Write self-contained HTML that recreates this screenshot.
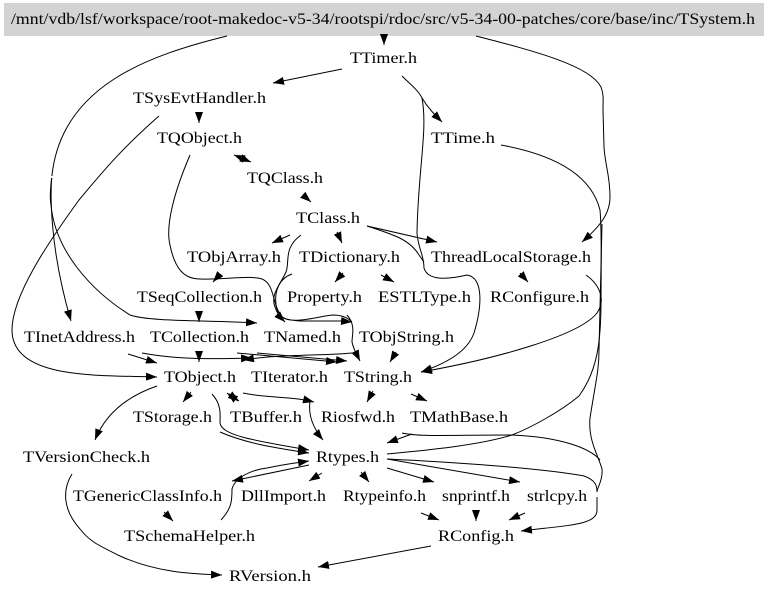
<!DOCTYPE html>
<html><head><meta charset="utf-8"><style>
html,body{margin:0;padding:0;background:#fff}
svg{display:block}
text{font-family:"Liberation Serif",serif;font-size:15.6px;fill:#000}
.e path,.e line{fill:none;stroke:#000;stroke-width:1}
.e .h{marker-end:url(#a)}
</style></head><body>
<svg width="768" height="596" viewBox="0 0 768 596" xmlns="http://www.w3.org/2000/svg">
<defs><marker id="a" markerUnits="userSpaceOnUse" markerWidth="12" markerHeight="9" refX="11" refY="4" orient="auto"><path d="M0,0L11,4L0,8z" fill="#000"/></marker></defs>
<rect width="768" height="596" fill="#fff"/>
<rect x="4" y="3" width="760" height="33" fill="#d3d3d3"/>
<g class="e">
<line class="h" x1="384" y1="34" x2="384" y2="45"/>
<line class="h" x1="342" y1="69" x2="273" y2="83"/>
<path class="h" d="M227,36C150,55 62,85 52,175C50,190 50,200 51,205C55,250 90,290 130,315C150,322 210,320 257,323"/>
<path class="h" d="M52,175C50,195 50,250 71,321"/>
<path class="h" d="M159,116C120,150 100,175 79,200C50,240 12,295 12,330C12,380 100,375 157,377"/>
<line class="h" x1="199" y1="112" x2="199" y2="123"/>
<line class="h" x1="244" y1="159" x2="234" y2="155"/>
<line class="h" x1="241" y1="158" x2="251" y2="162"/>
<line class="h" x1="303" y1="195" x2="311" y2="202"/>
<path d="M190,155C175,190 165,225 170,245C175,270 185,279 200,279C225,280 250,275 262,279C275,284 272,305 282,317C292,325 320,316 333,315C342,315 348,318 352,322"/>
<line class="h" x1="290" y1="235" x2="272" y2="243"/>
<line class="h" x1="337" y1="232" x2="342" y2="243"/>
<line class="h" x1="220" y1="274" x2="213" y2="282"/>
<path class="h" d="M301,235C283,248 290,262 286,272C280,285 270,295 275,307C277,313 279,316 285,322"/>
<path d="M292,274C280,278 274,290 276,305C278,318 285,320 300,321L341,321"/>
<line class="h" x1="341" y1="321" x2="352" y2="322"/>
<path class="h" d="M347,315C356,325 352,335 352,342C353,348 356,353 360,361"/>
<path class="h" d="M402,76C410,84 418,90 422,98C428,108 435,115 442,122"/>
<path class="h" d="M422,98C428,130 418,170 417,233C418,248 424,255 424,268C428,282 450,279 467,275C485,278 481,310 474,333C468,350 450,362 421,372"/>
<line class="h" x1="367" y1="226" x2="437" y2="242"/>
<path d="M367,226C395,235 410,240 419,255L424,262"/>
<path class="h" d="M476,36C530,50 590,65 601,87C604,95 603,100 603,110L604,147C605,165 610,175 610,197C610,215 598,228 582,242"/>
<path d="M501,145C545,153 590,170 600,210C602,230 601,280 601,300C601,340 598,370 579,396C560,412 530,428 512,435C480,445 430,450 387,454"/>
<path d="M602,224L599,350C599,370 596,380 590,418C588,440 598,455 602,469C603,480 597,488 597,492"/>
<path class="h" d="M597,497V510C597,525 570,525 521,531"/>
<path class="h" d="M586,275C600,285 606,300 597,313C580,335 500,358 421,372"/>
<line class="h" x1="412" y1="434" x2="387" y2="443"/>
<path d="M402,433C420,437 450,435 512,435C560,437 590,448 600,460"/>
<line class="h" x1="387" y1="459" x2="520" y2="482"/>
<path d="M387,459C450,462 540,468 584,476C595,480 597,485 597,492"/>
<line class="h" x1="387" y1="468" x2="434" y2="482"/>
<line class="h" x1="421" y1="513" x2="439" y2="520"/>
<line class="h" x1="476" y1="510" x2="476" y2="521"/>
<line class="h" x1="525" y1="513" x2="509" y2="520"/>
<line class="h" x1="431" y1="546" x2="318" y2="567"/>
<line class="h" x1="361" y1="472" x2="369" y2="482"/>
<line class="h" x1="322" y1="473" x2="309" y2="481"/>
<line class="h" x1="309" y1="465" x2="232" y2="481"/>
<path class="h" d="M221,520C232,508 232,500 232,489C235,478 250,470 267,468C285,464 295,463 309,461"/>
<path class="h" d="M157,386C125,397 105,415 95,440"/>
<path class="h" d="M72,474C62,490 63,510 80,529C90,542 100,546 120,556C155,572 190,574 222,575"/>
<line class="h" x1="164" y1="512" x2="173" y2="521"/>
<line class="h" x1="191" y1="392" x2="183" y2="402"/>
<line class="h" x1="238" y1="401" x2="227" y2="393"/>
<line class="h" x1="229" y1="394" x2="239" y2="401"/>
<path class="h" d="M212,394C222,405 220,415 220,423C222,435 250,440 309,450"/>
<path class="h" d="M220,432C245,443 275,448 309,453"/>
<path class="h" d="M243,393C265,398 290,396 314,402"/>
<path class="h" d="M310,401C308,415 313,428 323,440"/>
<line class="h" x1="373" y1="391" x2="367" y2="402"/>
<line class="h" x1="411" y1="394" x2="427" y2="401"/>
<line class="h" x1="396" y1="352" x2="390" y2="362"/>
<line class="h" x1="343" y1="273" x2="335" y2="282"/>
<line class="h" x1="381" y1="275" x2="394" y2="282"/>
<line class="h" x1="520" y1="273" x2="528" y2="282"/>
<line class="h" x1="199" y1="311" x2="199" y2="322"/>
<line class="h" x1="199" y1="351" x2="199" y2="362"/>
<line class="h" x1="128" y1="354" x2="157" y2="363"/>
<path class="h" d="M142,353C180,360 220,359 252,358"/>
<line class="h" x1="237" y1="353" x2="337" y2="362"/>
<line class="h" x1="257" y1="353" x2="347" y2="361"/>
<path class="h" d="M352,353C320,356 280,354 243,360"/>
</g>
<rect x="49" y="176" width="5" height="2" fill="#fff"/>
<rect x="595" y="494" width="5" height="3" fill="#fff"/>
<g>
<text x="11" y="24" textLength="744" lengthAdjust="spacingAndGlyphs">/mnt/vdb/lsf/workspace/root-makedoc-v5-34/rootspi/rdoc/src/v5-34-00-patches/core/base/inc/TSystem.h</text>
<text x="350" y="63" textLength="67" lengthAdjust="spacingAndGlyphs">TTimer.h</text>
<text x="133" y="103" textLength="133" lengthAdjust="spacingAndGlyphs">TSysEvtHandler.h</text>
<text x="157" y="143" textLength="85" lengthAdjust="spacingAndGlyphs">TQObject.h</text>
<text x="431" y="143" textLength="64" lengthAdjust="spacingAndGlyphs">TTime.h</text>
<text x="247" y="183" textLength="76" lengthAdjust="spacingAndGlyphs">TQClass.h</text>
<text x="296" y="223" textLength="64" lengthAdjust="spacingAndGlyphs">TClass.h</text>
<text x="187" y="262" textLength="94" lengthAdjust="spacingAndGlyphs">TObjArray.h</text>
<text x="299" y="262" textLength="101" lengthAdjust="spacingAndGlyphs">TDictionary.h</text>
<text x="431" y="262" textLength="160" lengthAdjust="spacingAndGlyphs">ThreadLocalStorage.h</text>
<text x="137" y="302" textLength="125" lengthAdjust="spacingAndGlyphs">TSeqCollection.h</text>
<text x="287" y="302" textLength="75" lengthAdjust="spacingAndGlyphs">Property.h</text>
<text x="378" y="302" textLength="93" lengthAdjust="spacingAndGlyphs">ESTLType.h</text>
<text x="490" y="302" textLength="99" lengthAdjust="spacingAndGlyphs">RConfigure.h</text>
<text x="24" y="342" textLength="111" lengthAdjust="spacingAndGlyphs">TInetAddress.h</text>
<text x="150" y="342" textLength="99" lengthAdjust="spacingAndGlyphs">TCollection.h</text>
<text x="264" y="342" textLength="77" lengthAdjust="spacingAndGlyphs">TNamed.h</text>
<text x="359" y="342" textLength="95" lengthAdjust="spacingAndGlyphs">TObjString.h</text>
<text x="164" y="382" textLength="72" lengthAdjust="spacingAndGlyphs">TObject.h</text>
<text x="251" y="382" textLength="77" lengthAdjust="spacingAndGlyphs">TIterator.h</text>
<text x="344" y="382" textLength="68" lengthAdjust="spacingAndGlyphs">TString.h</text>
<text x="133" y="422" textLength="79" lengthAdjust="spacingAndGlyphs">TStorage.h</text>
<text x="230" y="422" textLength="72" lengthAdjust="spacingAndGlyphs">TBuffer.h</text>
<text x="321" y="422" textLength="74" lengthAdjust="spacingAndGlyphs">Riosfwd.h</text>
<text x="410" y="422" textLength="98" lengthAdjust="spacingAndGlyphs">TMathBase.h</text>
<text x="23" y="462" textLength="127" lengthAdjust="spacingAndGlyphs">TVersionCheck.h</text>
<text x="316" y="462" textLength="63" lengthAdjust="spacingAndGlyphs">Rtypes.h</text>
<text x="73" y="501" textLength="149" lengthAdjust="spacingAndGlyphs">TGenericClassInfo.h</text>
<text x="241" y="501" textLength="85" lengthAdjust="spacingAndGlyphs">DllImport.h</text>
<text x="343" y="501" textLength="83" lengthAdjust="spacingAndGlyphs">Rtypeinfo.h</text>
<text x="442" y="501" textLength="68" lengthAdjust="spacingAndGlyphs">snprintf.h</text>
<text x="527" y="501" textLength="60" lengthAdjust="spacingAndGlyphs">strlcpy.h</text>
<text x="124" y="541" textLength="131" lengthAdjust="spacingAndGlyphs">TSchemaHelper.h</text>
<text x="438" y="541" textLength="76" lengthAdjust="spacingAndGlyphs">RConfig.h</text>
<text x="229" y="581" textLength="82" lengthAdjust="spacingAndGlyphs">RVersion.h</text>
</g>
</svg>
</body></html>
